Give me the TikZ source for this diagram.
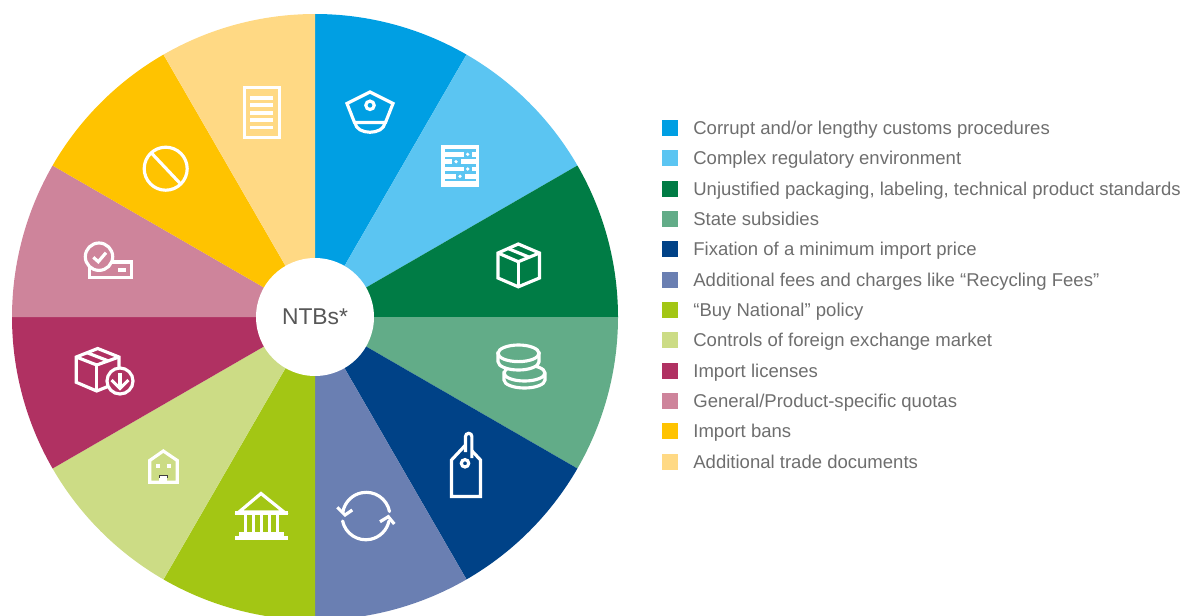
\documentclass[tikz,border=0pt]{standalone}
\usepackage{fontspec}
\setmainfont{Liberation Sans}
\usetikzlibrary{positioning}
\definecolor{customsBlue}{HTML}{009FE3}
\definecolor{regulatoryBlue}{HTML}{5BC5F2}
\definecolor{packagingGreen}{HTML}{007C45}
\definecolor{subsidyGreen}{HTML}{62AC88}
\definecolor{priceNavy}{HTML}{004287}
\definecolor{feesBlue}{HTML}{6A7FB2}
\definecolor{buyLime}{HTML}{A3C614}
\definecolor{exchangeLime}{HTML}{CCDC85}
\definecolor{licenseRed}{HTML}{B03162}
\definecolor{quotaRose}{HTML}{CE849B}
\definecolor{banYellow}{HTML}{FFC300}
\definecolor{tradeYellow}{HTML}{FFD984}
\definecolor{textGray}{HTML}{6E6E6E}
\definecolor{hubGray}{HTML}{575757}
\tikzset{
  swatch/.style={minimum size=0.32cm, inner sep=0pt, outer sep=0pt},
  legendText/.style={right=0.3cm of #1, inner sep=0pt, text=textGray, font=\fontsize{10.55}{12}\selectfont, text height=1.6ex, text depth=0.5ex},
  icon/.style={draw=white, line width=1.8pt, line join=miter},
}
\begin{document}
\begin{tikzpicture}[x=0.02cm, y=0.02cm, yscale=-1]
        \useasboundingbox (0,0) rectangle (1182,615);
        \coordinate (O) at (315,317);

        % wheel
        \fill[customsBlue] (O) -- ++(-90:303) arc[start angle=-90, end angle=-60, radius=303] -- cycle;
        \fill[regulatoryBlue] (O) -- ++(-60:303) arc[start angle=-60, end angle=-30, radius=303] -- cycle;
        \fill[packagingGreen] (O) -- ++(-30:303) arc[start angle=-30, end angle=0, radius=303] -- cycle;
        \fill[subsidyGreen] (O) -- ++(0:303) arc[start angle=0, end angle=30, radius=303] -- cycle;
        \fill[priceNavy] (O) -- ++(30:303) arc[start angle=30, end angle=60, radius=303] -- cycle;
        \fill[feesBlue] (O) -- ++(60:303) arc[start angle=60, end angle=90, radius=303] -- cycle;
        \fill[buyLime] (O) -- ++(90:303) arc[start angle=90, end angle=120, radius=303] -- cycle;
        \fill[exchangeLime] (O) -- ++(120:303) arc[start angle=120, end angle=150, radius=303] -- cycle;
        \fill[licenseRed] (O) -- ++(150:303) arc[start angle=150, end angle=180, radius=303] -- cycle;
        \fill[quotaRose] (O) -- ++(180:303) arc[start angle=180, end angle=210, radius=303] -- cycle;
        \fill[banYellow] (O) -- ++(210:303) arc[start angle=210, end angle=240, radius=303] -- cycle;
        \fill[tradeYellow] (O) -- ++(240:303) arc[start angle=240, end angle=270, radius=303] -- cycle;
        \node[circle, fill=white, minimum size=2.36cm, inner sep=0pt, text=hubGray, font=\fontsize{13}{16}\selectfont] (hub) at (O) {NTBs*};

        % cap
        \draw[icon] (370,92) -- (393,103.5) -- (385.5,122.5) -- (354.5,122.5) -- (347,103.5) -- cycle;
        \draw[icon] (355,122.5) .. controls (356,135.5) and (384,135.5) .. (385,122.5);
        \draw[icon] (370,105.3) circle (4.2);

        % regulation sheet
        \fill[white] (441.3,145) rectangle (479,186.7);
        \draw[regulatoryBlue, line width=1.6pt] (445,150.3) -- (475.5,150.3);
        \draw[regulatoryBlue, line width=1.6pt] (445,158) -- (475.5,158);
        \draw[regulatoryBlue, line width=1.6pt] (445,165.3) -- (475.5,165.3);
        \draw[regulatoryBlue, line width=1.6pt] (445,172.6) -- (475.5,172.6);
        \draw[regulatoryBlue, line width=1.6pt] (445,180) -- (475.5,180);
        \fill[regulatoryBlue] (463.5,151.5) rectangle (472,156.8);
        \fill[regulatoryBlue] (452,159) rectangle (460.5,164.2);
        \fill[regulatoryBlue] (463.5,166.5) rectangle (472,171.5);
        \fill[regulatoryBlue] (456,173.8) rectangle (464.5,178.8);
        \fill[white] (467.7,154.3) circle (1.8);
        \fill[white] (456,161.7) circle (1.8);
        \fill[white] (467.7,169) circle (1.8);
        \fill[white] (460,176.3) circle (1.8);

        % parcel
        \draw[icon] (518.3,244) -- (539.5,253) -- (539.5,278) -- (518.3,286.8) -- (498,278) -- (498,253) -- cycle;
        \draw[icon] (498,253) -- (518.3,261.7) -- (539.5,253);
        \draw[icon] (518.3,261.7) -- (518.3,286.8);
        \draw[icon] (508,248.5) -- (529.2,257.2);

        % coins
        \draw[icon, fill=subsidyGreen] (504,373) -- (504,380) arc[start angle=180, end angle=0, x radius=20.5, y radius=8] -- (545,373) arc[start angle=0, end angle=-180, x radius=20.5, y radius=8] -- cycle;
        \draw[icon] (504,373) arc[start angle=180, end angle=0, x radius=20.5, y radius=8];
        \draw[icon, fill=subsidyGreen] (498,353.3) -- (498,361.7) arc[start angle=180, end angle=0, x radius=20.5, y radius=8.3] -- (539,353.3) -- cycle;
        \draw[icon, fill=subsidyGreen] (518.5,353.3) ellipse (20.5 and 8.3);

        % price tag
        \draw[icon] (451.5,496.5) -- (451.5,460) -- (466,444.5) -- (480.5,460) -- (480.5,496.5) -- cycle;
        \draw[icon, fill=priceNavy] (465.5,452) -- (465.5,436.5) arc[start angle=180, end angle=360, radius=3.2] -- (471.9,458);
        \draw[icon, fill=priceNavy] (465,463.3) circle (3.7);

        % recycling arrows
        \draw[icon, line cap=round] (389.5,511.5) arc[start angle=-11, end angle=-169, radius=23.7];
        \draw[icon, line cap=round] (342.6,521) arc[start angle=168, end angle=12, radius=23.7];
        \draw[icon] (337.3,507.3) -- (345,515) -- (352.3,510);
        \draw[icon] (394.3,524) -- (388.3,516.7) -- (380,521.7);

        % bank
        \draw[icon] (261,493.5) -- (239,512) -- (284,512) -- cycle;
        \fill[white] (235,511) rectangle (288.3,514.5);
        \fill[white] (243.5,514) rectangle (247,532);
        \fill[white] (251.5,514) rectangle (255,532);
        \fill[white] (259.5,514) rectangle (263,532);
        \fill[white] (267.5,514) rectangle (271,532);
        \fill[white] (275.5,514) rectangle (279,532);
        \fill[white] (239,531.7) rectangle (284,536);
        \fill[white] (235,536) rectangle (288.3,540);

        % house
        \draw[icon] (149.7,482.3) -- (149.7,460.5) -- (163.3,451) -- (177.3,460.5) -- (177.3,482.3) -- cycle;
        \fill[white] (156.3,463.7) rectangle (160.3,467.7);
        \fill[white] (167,463.7) rectangle (171,467.7);
        \fill[white] (159.3,475) rectangle (167.3,483);
        \draw[black!75, line width=0.4pt] (159.3,478) -- (159.3,475) -- (167.3,475) -- (167.3,478);

        % parcel with arrow
        \draw[icon] (97.7,348.5) -- (119,357) -- (119,382) -- (96.7,391) -- (76.3,382.3) -- (76.3,357) -- cycle;
        \draw[icon] (76.3,357) -- (96.7,365) -- (119,357);
        \draw[icon] (96.7,365) -- (96.7,391);
        \draw[icon] (86.5,352.5) -- (108.5,361);
        \draw[icon, fill=licenseRed] (120,381) circle (13);
        \draw[icon] (120,373.3) -- (120,388);
        \draw[icon] (111.5,380) -- (120,388.5) -- (128.5,380);

        % quota
        \draw[icon] (89.6,262) rectangle (131.5,277.5);
        \draw[icon, fill=quotaRose] (99,256.7) circle (13.7);
        \draw[icon] (93.3,257.3) -- (98.3,261.7) -- (106,252.7);
        \draw[icon] (118.3,270) -- (126,270);

        % ban
        \draw[icon] (165.7,168.7) circle (21.5);
        \draw[icon] (151.7,153.3) -- (180,183.3);

        % document
        \draw[icon] (244.8,87.5) rectangle (279.2,137.5);
        \fill[white] (250,95.9) rectangle (273.3,99.6);
        \fill[white] (250,103.2) rectangle (273.3,106.9);
        \fill[white] (250,110.9) rectangle (273.3,114.6);
        \fill[white] (250,118.2) rectangle (273.3,121.9);
        \fill[white] (250,125.5) rectangle (273.3,129.2);

        % legend
        \node[swatch, fill=customsBlue] (customsBox) at (670,128) {};
        \node[swatch, fill=regulatoryBlue] (regulatoryBox) at (670,158.3) {};
        \node[swatch, fill=packagingGreen] (packagingBox) at (670,188.6) {};
        \node[swatch, fill=subsidyGreen] (subsidyBox) at (670,219) {};
        \node[swatch, fill=priceNavy] (priceBox) at (670,249.3) {};
        \node[swatch, fill=feesBlue] (feesBox) at (670,279.6) {};
        \node[swatch, fill=buyLime] (buyBox) at (670,310) {};
        \node[swatch, fill=exchangeLime] (exchangeBox) at (670,340.3) {};
        \node[swatch, fill=licenseRed] (licenseBox) at (670,370.6) {};
        \node[swatch, fill=quotaRose] (quotaBox) at (670,401) {};
        \node[swatch, fill=banYellow] (banBox) at (670,431.3) {};
        \node[swatch, fill=tradeYellow] (tradeBox) at (670,461.6) {};
        \node[legendText=customsBox, yshift=-0.03cm] (customsText) {Corrupt and/or lengthy customs procedures};
        \node[legendText=regulatoryBox, yshift=-0.03cm] (regulatoryText) {Complex regulatory environment};
        \node[legendText=packagingBox, yshift=-0.03cm] (packagingText) {Unjustified packaging, labeling, technical product standards};
        \node[legendText=subsidyBox, yshift=-0.03cm] (subsidyText) {State subsidies};
        \node[legendText=priceBox, yshift=-0.03cm] (priceText) {Fixation of a minimum import price};
        \node[legendText=feesBox, yshift=-0.03cm] (feesText) {Additional fees and charges like “Recycling Fees”};
        \node[legendText=buyBox, yshift=-0.03cm] (buyText) {“Buy National” policy};
        \node[legendText=exchangeBox, yshift=-0.03cm] (exchangeText) {Controls of foreign exchange market};
        \node[legendText=licenseBox, yshift=-0.03cm] (licenseText) {Import licenses};
        \node[legendText=quotaBox, yshift=-0.03cm] (quotaText) {General/Product-specific quotas};
        \node[legendText=banBox, yshift=-0.03cm] (banText) {Import bans};
        \node[legendText=tradeBox, yshift=-0.03cm] (tradeText) {Additional trade documents};
\end{tikzpicture}
\end{document}
